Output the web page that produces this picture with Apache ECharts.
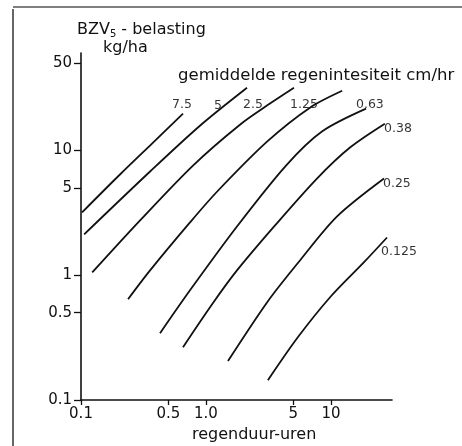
<!DOCTYPE html>
<html>
<head>
<meta charset="utf-8">
<script src="https://cdn.jsdelivr.net/npm/echarts@6/dist/echarts.min.js"></script>
<style>
  html, body { margin: 0; padding: 0; background: #fff; }
  #chart { width: 462px; height: 446px; }
</style>
</head>
<body>
<div id="chart"></div>
<script>
// regenduur (uren) vs BZV5-belasting (kg/ha), one curve per rain intensity (cm/hr)
const c75 = [[0.102, 3.18], [0.205, 6.39], [0.370, 11.3], [0.655, 19.6]];
const c5 = [[0.106, 2.12], [0.357, 6.75], [0.895, 15.7], [2.13, 31.6]];
const c25 = [[0.123, 1.05], [0.297, 2.74], [0.787, 7.53], [1.87, 16.0], [3.25, 23.6], [5.06, 31.6]];
const c125 = [[0.238, 0.641], [0.357, 1.09], [0.745, 2.64], [1.23, 4.67], [3.08, 11.7], [6.79, 21.9], [12.3, 29.9]];
const c063 = [[0.429, 0.343], [0.745, 0.756], [1.77, 2.45], [4.37, 7.53], [8.47, 14.1], [19.1, 21.5]];
const c038 = [[0.655, 0.265], [1.12, 0.585], [1.77, 1.09], [3.57, 2.50], [7.73, 5.93], [14.2, 10.5], [27.0, 16.3]];
const c025 = [[1.50, 0.205], [3.13, 0.618], [5.65, 1.31], [11.2, 2.95], [26.6, 5.93]];
const c0125 = [[3.13, 0.144], [5.45, 0.319], [10.0, 0.677], [18.4, 1.27], [28.1, 2.00]];

const curveNames = ['7.5', '5', '2.5', '1.25', '0.63', '0.38', '0.25', '0.125'];
const curveData = [c75, c5, c25, c125, c063, c038, c025, c0125];

// where each intensity label sits
const labelX = [0.643, 1.25, 2.38, 6.08, 20.5, 34.4, 33.7, 35.0];
const labelY = [23.1, 22.7, 23.1, 23.1, 23.1, 14.9, 5.41, 1.55];

const xTicks = [0.1, 0.5, 1, 5, 10];
const xTickText = ['0.1', '0.5', '1.0', '5', '10'];
const yTicks = [0.1, 0.5, 1, 5, 10, 50];
const yTickText = ['0.1', '0.5', '1', '5', '10', '50'];

const font = 'DejaVu Sans';
const ink = '#111';

let chart = echarts.init(document.getElementById('chart'));

let series = curveData.map((d, i) => ({
  name: curveNames[i],
  type: 'line',
  data: d,
  smooth: 0.3,
  showSymbol: false,
  lineStyle: { color: ink, width: 1.8 },
  silent: true
}));
series.push({
  name: 'labels',
  type: 'scatter',
  symbolSize: 0,
  clip: false,
  silent: true,
  data: labelX.map((x, i) => [x, labelY[i], curveNames[i]]),
  label: {
    show: true,
    position: 'inside',
    formatter: p => p.value[2],
    color: '#000',
    fontFamily: font,
    fontSize: 12.5
  }
});

function tickText(ticks, texts) {
  return v => texts[ticks.indexOf(+(+v).toPrecision(3))] || '';
}

chart.setOption({
  animation: false,
  backgroundColor: '#fff',
  title: [
    {
      text: 'BZV{s|5} - belasting',
      left: 77, top: 20, padding: 0,
      textStyle: {
        fontFamily: font, fontSize: 16, fontWeight: 'normal', color: ink,
        rich: { s: { fontFamily: font, fontSize: 10, color: ink, padding: [9, 0, 0, 0] } }
      }
    },
    {
      text: 'kg/ha',
      left: 103, top: 40, padding: 0,
      textStyle: { fontFamily: font, fontSize: 16, fontWeight: 'normal', color: ink }
    },
    {
      text: 'gemiddelde regenintesiteit cm/hr',
      left: 178, top: 67, padding: 0,
      textStyle: { fontFamily: font, fontSize: 16.5, fontWeight: 'normal', color: ink }
    },
    {
      text: 'regenduur-uren',
      left: 192, top: 427, padding: 0,
      textStyle: { fontFamily: font, fontSize: 16, fontWeight: 'normal', color: ink }
    }
  ],
  grid: { left: 81, right: 70, top: 53, bottom: 46 },
  xAxis: {
    type: 'log',
    logBase: 10,
    min: 0.1,
    max: 30.8,
    splitLine: { show: false },
    axisLine: { lineStyle: { color: ink, width: 1.6 } },
    axisTick: { customValues: xTicks, length: 5, lineStyle: { color: ink, width: 1.3 } },
    axisLabel: {
      customValues: xTicks,
      formatter: tickText(xTicks, xTickText),
      color: ink, fontFamily: font, fontSize: 15, margin: 7
    }
  },
  yAxis: {
    type: 'log',
    logBase: 10,
    min: 0.1,
    max: 60,
    splitLine: { show: false },
    axisLine: { lineStyle: { color: ink, width: 1.6 } },
    axisTick: { customValues: yTicks, length: 7, lineStyle: { color: ink, width: 1.3 } },
    axisLabel: {
      customValues: yTicks,
      formatter: tickText(yTicks, yTickText),
      color: ink, fontFamily: font, fontSize: 15, margin: 9
    }
  },
  graphic: [
    { type: 'line', shape: { x1: 13, y1: 7, x2: 462, y2: 7 }, style: { stroke: '#555', lineWidth: 1.5 }, silent: true },
    { type: 'line', shape: { x1: 13, y1: 9, x2: 13, y2: 446 }, style: { stroke: '#333', lineWidth: 1.5 }, silent: true }
  ],
  series: series
});
</script>
</body>
</html>
